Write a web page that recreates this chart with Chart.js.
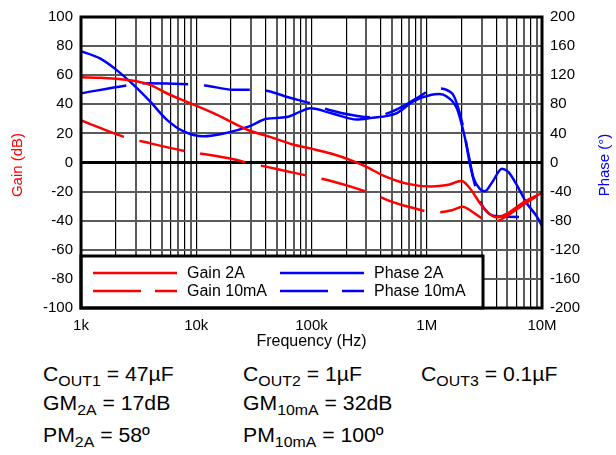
<!DOCTYPE html>
<html>
<head>
<meta charset="utf-8">
<script src="https://cdn.jsdelivr.net/npm/chart.js@4.4.1/dist/chart.umd.min.js"></script>
<style>
  body { margin: 0; background: #fff; }
  #wrap { position: relative; width: 616px; height: 455px; overflow: hidden; font-family: "Liberation Sans", Arial, sans-serif; }
  #chart { position: absolute; left: 0; top: 0; }
  .note { position: absolute; font-size: 20px; line-height: 20px; color: #000; white-space: nowrap; transform: scaleX(1.06); transform-origin: left; }
  .note span { font-size: 15px; position: relative; top: 5px; }
</style>
</head>
<body>
<div id="wrap">
  <canvas id="chart" width="616" height="352"></canvas>
  <div class="note" style="left:43px;top:364px">C<span>OUT1</span> = 47µF</div>
  <div class="note" style="left:243px;top:364px">C<span>OUT2</span> = 1µF</div>
  <div class="note" style="left:421px;top:364px">C<span>OUT3</span> = 0.1µF</div>
  <div class="note" style="left:43px;top:393px">GM<span>2A</span> = 17dB</div>
  <div class="note" style="left:243px;top:393px">GM<span>10mA</span> = 32dB</div>
  <div class="note" style="left:43px;top:425px">PM<span>2A</span> = 58º</div>
  <div class="note" style="left:243px;top:425px">PM<span>10mA</span> = 100º</div>
</div>
<script>
// values (frequency in Hz)
const gain2aFreq = [1e3, 1.5e3, 2.66e3, 3.97e3, 5.54e3, 8.83e3, 15e3, 27.4e3, 46.4e3, 69e3, 97e3, 150e3, 230e3, 300e3, 420e3, 670e3, 1.1e6, 1.5e6, 2.0e6, 2.3e6, 3.1e6, 4.0e6, 5.0e6, 7.0e6, 1e7];
const gain2aDb = [58.6, 58.2, 56.5, 53.4, 47.6, 40.8, 32.9, 22.7, 16.9, 12.4, 9.7, 6, 1, -3, -9, -14.5, -16.5, -15.5, -12.8, -16.5, -31, -37.7, -35, -27, -21];

const gain10Freq = [1e3, 2.5e3, 3.5e3, 8.8e3, 12e3, 21e3, 29e3, 41e3, 61e3, 80e3, 100e3, 140e3, 344e3, 480e3, 720e3, 1.18e6, 1.65e6, 2.05e6, 2.5e6, 3.1e6, 4.0e6, 5.0e6, 7.2e6, 1e7];
const gain10Db = [29, 17, 14.2, 7.2, 5.6, 2.2, -0.5, -3, -6, -8, -9.7, -12.2, -21.7, -26.5, -30.8, -34.3, -32.8, -30.4, -34, -38.8, -40.4, -36.5, -28, -21];

const phase2aFreq = [1e3, 1.46e3, 2.04e3, 2.84e3, 3.97e3, 5.54e3, 7.7e3, 11.5e3, 18.3e3, 29.2e3, 40.7e3, 61e3, 80e3, 97e3, 154e3, 247e3, 320e3, 550e3, 765e3, 1.1e6, 1.28e6, 1.49e6, 1.82e6, 2.08e6, 2.3e6, 2.54e6, 2.9e6, 3.2e6, 3.7e6, 4.5e6, 5.1e6, 6.0e6, 7.3e6, 9.0e6, 1e7];
const phase2aDeg = [153, 143, 127, 107, 84, 59, 43, 36, 40.7, 50, 60, 62.5, 70, 74.5, 67, 59, 61, 68, 84, 93, 94, 90.8, 74.8, 43, 11.2, -20.7, -36.6, -39.5, -27, -8.5, -13, -30, -55, -74, -87];

const phase10Freq = [1e3, 2.5e3, 3.5e3, 8.7e3, 11.9e3, 20.9e3, 29.2e3, 40.7e3, 65e3, 100e3, 140e3, 250e3, 344e3, 480e3, 650e3, 870e3, 1.18e6, 1.65e6, 2.08e6, 2.37e6, 2.71e6, 3.1e6, 3.78e6, 4.94e6, 7.1e6];
const phase10Deg = [95, 106, 109, 107.6, 106, 100, 100, 98.6, 89, 81, 72.6, 64, 62, 69, 79, 91, 102, 95.3, 47.5, -2.5, -39, -61.7, -73, -74.4, -75.3];

const decadeLabels = { 1e3: '1k', 1e4: '10k', 1e5: '100k', 1e6: '1M', 1e7: '10M' };

const FONT = '"Liberation Sans", Arial, sans-serif';
const RED = '#ff0000';
const BLUE = '#0000ff';
const DASH = [46, 16];

function pts(xs, ys) {
  return xs.map((x, i) => ({ x, y: ys[i] }));
}

function series(label, xs, ys, color, dashed, axis) {
  return {
    label,
    data: pts(xs, ys),
    yAxisID: axis,
    borderColor: color,
    borderWidth: 2.5,
    borderDash: dashed ? DASH : [],
    showLine: true,
    pointRadius: 0,
    cubicInterpolationMode: 'monotone',
    fill: false,
  };
}

// odd multiples (3,5,7,9) get the grey double-ish line
function isGreyX(v) {
  const k = Math.round(v / Math.pow(10, Math.floor(Math.log10(v) + 1e-9)));
  return k % 2 === 1 && k !== 1;
}

const legendItems = [
  { text: 'Gain 2A', color: RED, dashed: false, x: 93, y: 273 },
  { text: 'Gain 10mA', color: RED, dashed: true, x: 93, y: 291 },
  { text: 'Phase 2A', color: BLUE, dashed: false, x: 280, y: 273 },
  { text: 'Phase 10mA', color: BLUE, dashed: true, x: 280, y: 291 },
];

const overlay = {
  id: 'overlay',
  afterDatasetsDraw(chart) {
    const c = chart.ctx;
    const a = chart.chartArea;
    c.save();
    // legend box sits inside the plot, bottom-left
    c.fillStyle = '#fff';
    c.fillRect(a.left, 256, 483 - a.left, a.bottom - 256);
    c.strokeStyle = '#000';
    c.lineWidth = 3;
    c.strokeRect(a.left, 256, 483 - a.left, a.bottom - 256);
    c.font = '16px ' + FONT;
    c.textBaseline = 'middle';
    legendItems.forEach(it => {
      c.strokeStyle = it.color;
      c.lineWidth = 2.5;
      c.setLineDash(it.dashed ? [48, 14] : []);
      c.beginPath();
      c.moveTo(it.x, it.y);
      c.lineTo(it.x + 84, it.y);
      c.stroke();
      c.setLineDash([]);
      c.fillStyle = '#000';
      c.fillText(it.text, it.x + 94, it.y + 1);
    });
    // plot frame
    c.strokeStyle = '#000';
    c.lineWidth = 3;
    c.strokeRect(a.left, a.top, a.right - a.left, a.bottom - a.top);
    // axis titles, both reading bottom to top
    c.font = '15px ' + FONT;
    c.textAlign = 'center';
    c.textBaseline = 'middle';
    c.translate(18, 165);
    c.rotate(-Math.PI / 2);
    c.fillStyle = RED;
    c.fillText('Gain (dB)', 0, 0);
    c.restore();
    c.save();
    c.font = '15px ' + FONT;
    c.textAlign = 'center';
    c.textBaseline = 'middle';
    c.translate(605, 165);
    c.rotate(-Math.PI / 2);
    c.fillStyle = BLUE;
    c.fillText('Phase (°)', 0, 0);
    c.restore();
  }
};

const ctx = document.getElementById('chart').getContext('2d');

new Chart(ctx, {
  type: 'scatter',
  data: {
    datasets: [
      series('Gain 2A', gain2aFreq, gain2aDb, RED, false, 'y'),
      series('Gain 10mA', gain10Freq, gain10Db, RED, true, 'y'),
      series('Phase 2A', phase2aFreq, phase2aDeg, BLUE, false, 'y1'),
      series('Phase 10mA', phase10Freq, phase10Deg, BLUE, true, 'y1'),
    ],
  },
  options: {
    responsive: false,
    animation: false,
    devicePixelRatio: 1,
    layout: { padding: { top: 15, left: 0, right: 0, bottom: 0 } },
    plugins: { legend: { display: false }, tooltip: { enabled: false } },
    scales: {
      x: {
        type: 'logarithmic',
        position: 'bottom',
        min: 1e3,
        max: 1e7,
        afterBuildTicks: scale => {
          const t = [];
          for (let e = 3; e < 7; e++) {
            for (let k = 1; k < 10; k++) t.push({ value: k * Math.pow(10, e) });
          }
          t.push({ value: 1e7 });
          scale.ticks = t;
        },
        afterFit: scale => { scale.height = 44; },
        ticks: {
          autoSkip: false,
          maxRotation: 0,
          padding: 9,
          color: '#000',
          font: { family: FONT, size: 15 },
          callback: v => decadeLabels[v] || '',
        },
        grid: {
          drawTicks: false,
          color: c => (c.tick && isGreyX(c.tick.value) ? '#5a5a5a' : '#000'),
          lineWidth: c => (c.tick && isGreyX(c.tick.value) ? 2 : 1.2),
        },
        border: { display: false },
        title: {
          display: true,
          text: 'Frequency (Hz)',
          color: '#000',
          font: { family: FONT, size: 16 },
          padding: { top: 0, bottom: 1 },
        },
      },
      y: {
        position: 'left',
        min: -100,
        max: 100,
        afterFit: scale => { scale.width = 81; },
        ticks: {
          stepSize: 10,
          padding: 8,
          color: '#000',
          font: { family: FONT, size: 15 },
          callback: v => (v % 20 === 0 ? v : ''),
        },
        grid: {
          drawTicks: false,
          color: c => (c.tick.value === 0 ? '#000' : c.tick.value % 20 === 0 ? '#5a5a5a' : '#000'),
          lineWidth: c => (c.tick.value === 0 ? 3 : c.tick.value % 20 === 0 ? 2 : 1.2),
        },
        border: { display: false },
      },
      y1: {
        position: 'right',
        min: -200,
        max: 200,
        afterFit: scale => { scale.width = 74; },
        ticks: {
          stepSize: 40,
          padding: 8,
          color: '#000',
          font: { family: FONT, size: 15 },
        },
        grid: { drawOnChartArea: false, drawTicks: false },
        border: { display: false },
      },
    },
  },
  plugins: [overlay],
});
</script>
</body>
</html>
